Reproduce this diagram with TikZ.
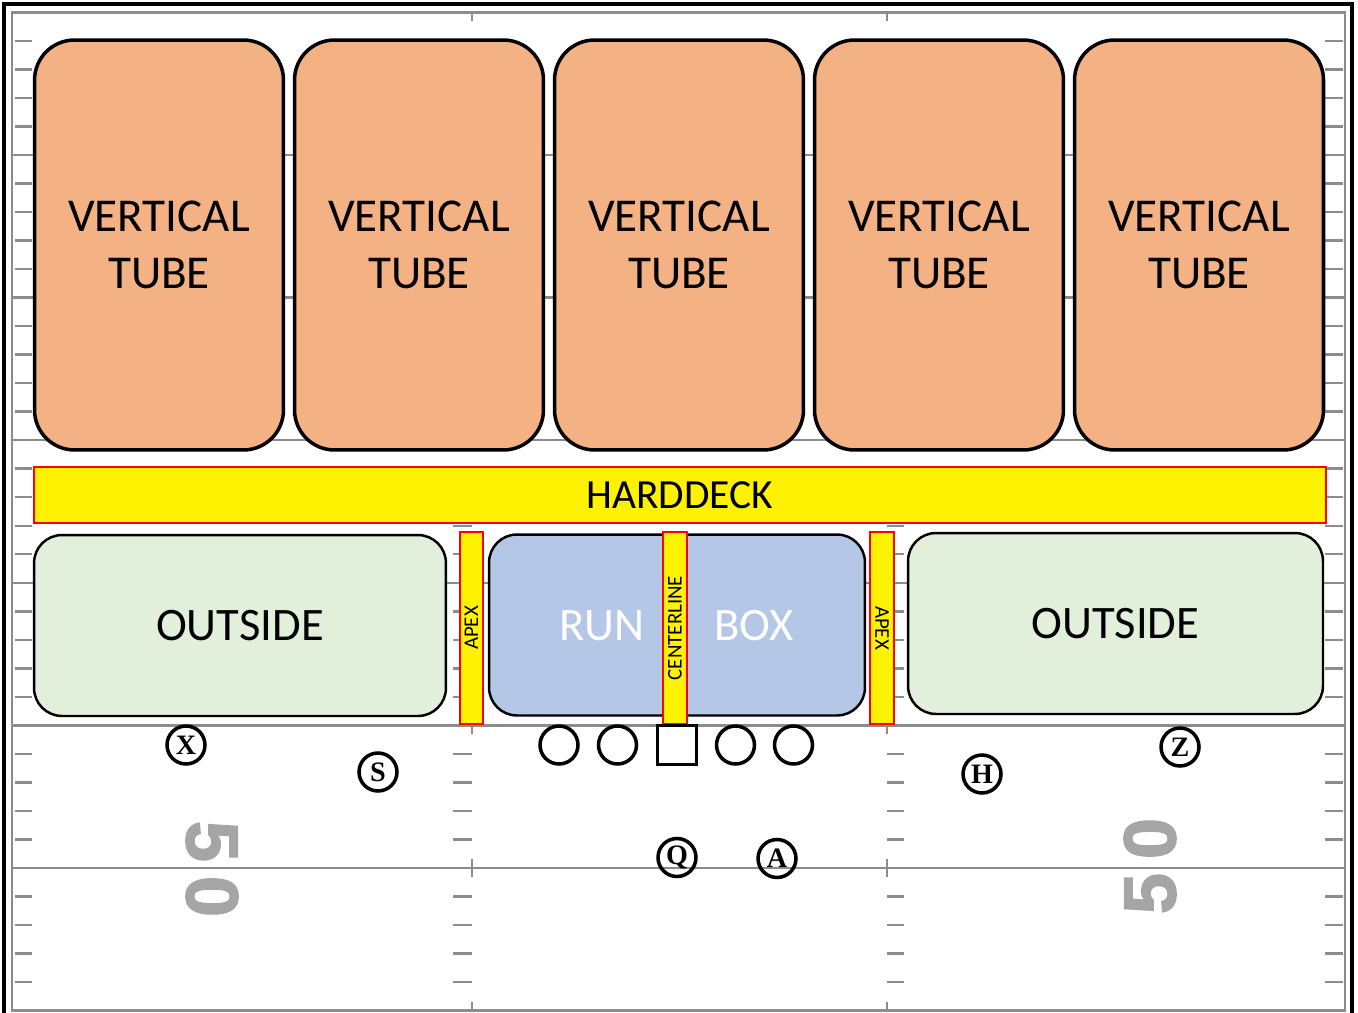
\documentclass[tikz,border=0pt]{standalone}
\usepackage{fontspec}
\setmainfont{Carlito}
\newfontfamily\playerfont{Liberation Serif}
\newfontfamily\yardfont{Liberation Sans}[BoldFeatures={FakeBold=2}]
\definecolor{tubeorange}{HTML}{F4B183}
\definecolor{outsidegreen}{HTML}{E2EFDA}
\definecolor{runblue}{HTML}{B4C7E7}
\definecolor{fieldgray}{RGB}{140,140,140}
\definecolor{numgray}{RGB}{165,165,165}
\tikzset{
  tube/.style={draw=black, line width=2pt, fill=tubeorange, rounded corners=0.8cm,
    minimum width=4.98cm, minimum height=8.2cm, align=center,
    font=\fontsize{26.8}{32.6}\selectfont},
  zone/.style={draw=black, line width=1.4pt, rounded corners=0.56cm,
    minimum height=3.62cm, font=\fontsize{26.5}{32}\selectfont},
  strip/.style={draw=red, line width=1.2pt, fill=yellow, inner sep=0pt},
  player/.style={circle, draw=black, line width=2pt, minimum size=0.76cm, inner sep=0pt,
    font=\playerfont\bfseries\fontsize{16}{16}\selectfont},
  yard/.style={fieldgray, line width=1.4pt},
  yardnum/.style={text=numgray, font=\yardfont\bfseries\fontsize{42}{42}\selectfont, inner sep=0pt},
}

\begin{document}
\begin{tikzpicture}[x=0.02cm, y=-0.02cm]
  \useasboundingbox (0,0) rectangle (1358,1013);
  \fill[white] (0,0) rectangle (1358,1013);

  \draw[yard] (12,12.5) rectangle (1345,1010.5);
  \begin{scope}
    \clip (12,12.5) rectangle (1345,1010.5);
    \foreach \k in {0,...,7} {
      \pgfmathsetmacro\yl{12.5+142.57*\k}
      \draw[yard] (12,\yl) -- (1345,\yl);
      \draw[yard] (472,\yl-9) -- (472,\yl+9);
      \draw[yard] (887,\yl-9) -- (887,\yl+9);
      \foreach \j in {1,...,4} {
        \pgfmathsetmacro\yh{\yl+28.514*\j}
        \draw[yard] (15,\yh) -- (32,\yh);
        \draw[yard] (453,\yh) -- (472,\yh);
        \draw[yard] (887,\yh) -- (904,\yh);
        \draw[yard] (1325,\yh) -- (1343,\yh);
      }
    }
  \end{scope}
  \node[yardnum, rotate=-90] (fiftyL) at (212,869) {5\hspace{8pt}0};
  \node[yardnum, rotate=90] (fiftyR) at (1150,866) {5\hspace{8pt}0};

  \draw[line width=2.4pt] (4,1013) -- (4,4) -- (1352,4) -- (1352,1013);

  \node[tube] (tube1) at (159,245) {VERTICAL\\TUBE};
  \node[tube] (tube2) at (419,245) {VERTICAL\\TUBE};
  \node[tube] (tube3) at (679,245) {VERTICAL\\TUBE};
  \node[tube] (tube4) at (939,245) {VERTICAL\\TUBE};
  \node[tube] (tube5) at (1199,245) {VERTICAL\\TUBE};

  \node[strip, minimum width=25.84cm, minimum height=1.12cm,
    font=\fontsize{23.6}{28}\selectfont] (deck) at (680,495) {HARDDECK};

  \node[zone, fill=outsidegreen, minimum width=8.24cm] (outL) at (240,625.5) {OUTSIDE};
  \node[zone, fill=outsidegreen, minimum width=8.3cm] (outR) at (1115.5,623.5) {OUTSIDE};
  \node[zone, fill=runblue, minimum width=7.52cm] (runbox) at (677,625) {};
  \node[text=white, font=\fontsize{26.5}{32}\selectfont] (run) at (602,626) {RUN};
  \node[text=white, font=\fontsize{26.5}{32}\selectfont] (box) at (754,626) {BOX};

  \node[strip, rotate=90, minimum width=3.84cm, minimum height=0.46cm,
    font=\fontsize{11.9}{12}\selectfont] (apexL) at (471.5,628) {APEX};
  \node[strip, rotate=90, minimum width=3.84cm, minimum height=0.48cm,
    font=\fontsize{11.9}{12}\selectfont] (center) at (675,628) {CENTERLINE};
  \node[strip, rotate=-90, minimum width=3.84cm, minimum height=0.48cm,
    font=\fontsize{11.9}{12}\selectfont] (apexR) at (882,628) {APEX};

  \node[player] (lt) at (559,745) {};
  \node[player] (lg) at (617.5,745) {};
  \node[draw=black, line width=2pt, minimum size=0.78cm, inner sep=0pt] (ctr) at (677,745) {};
  \node[player] (rg) at (735.5,745) {};
  \node[player] (rt) at (793.5,745) {};
  \node[player] (X) at (186,745) {X};
  \node[player] (S) at (378,772) {S};
  \node[player] (H) at (982,774) {H};
  \node[player] (Z) at (1180,747) {Z};
  \node[player] (Q) at (677,857.5) {Q};
  \node[player] (A) at (777,858.5) {A};
\end{tikzpicture}
\end{document}
